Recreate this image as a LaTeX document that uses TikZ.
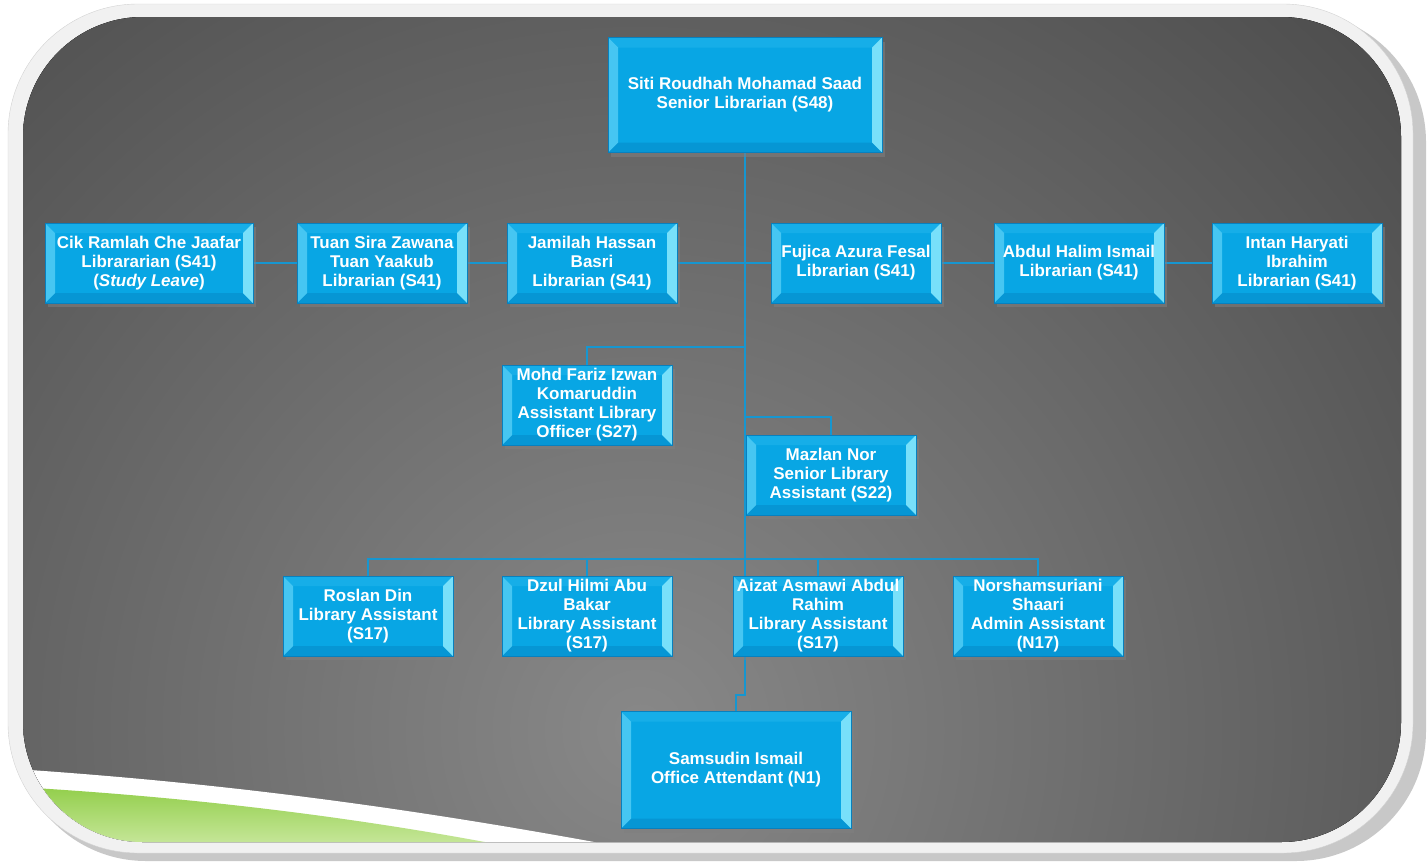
\documentclass[tikz,border=0pt]{standalone}
\usepackage{fontspec}
\setmainfont{Liberation Sans}
\usetikzlibrary{shadows}
\definecolor{boxblue}{RGB}{8,166,228}
\definecolor{bevelright}{RGB}{120,224,250}
\definecolor{bevelleft}{RGB}{70,198,242}
\definecolor{beveltop}{RGB}{22,174,232}
\definecolor{bevelbottom}{RGB}{6,150,212}
\definecolor{boxedge}{RGB}{8,128,190}
\definecolor{linkblue}{RGB}{22,150,208}
\definecolor{paneldark}{RGB}{60,60,60}
\definecolor{panellight}{RGB}{136,136,136}
\definecolor{framegray}{RGB}{241,241,241}
\definecolor{shadowgray}{RGB}{200,200,200}
\definecolor{swooshtop}{RGB}{146,206,74}
\definecolor{swooshbottom}{RGB}{214,238,178}
\pgfdeclarelayer{panel}
\pgfdeclarelayer{wires}
\pgfsetlayers{panel,wires,main}

\begin{document}
\begin{tikzpicture}[x=1pt,y=-1pt,
  staffbox/.style={draw=boxedge, line width=0.6pt, fill=\BOXCOLOR, text=white,
    inner sep=0pt, align=center, minimum width=170pt, minimum height=80pt,
    font=\bfseries\fontsize{17}{19}\selectfont,
    drop shadow={shadow xshift=3pt, shadow yshift=-4pt, opacity=0.55},
    path picture={
      \path (path picture bounding box.south west) coordinate (sw)
            (path picture bounding box.north west) coordinate (nw)
            (path picture bounding box.north east) coordinate (ne)
            (path picture bounding box.south east) coordinate (se);
      \fill[beveltop] (nw) -- (ne) -- ([shift={(-\BEVEL,-\BEVEL)}]ne) -- ([shift={(\BEVEL,-\BEVEL)}]nw) -- cycle;
      \fill[bevelbottom] (sw) -- (se) -- ([shift={(-\BEVEL,\BEVEL)}]se) -- ([shift={(\BEVEL,\BEVEL)}]sw) -- cycle;
      \fill[bevelleft] (sw) -- (nw) -- ([shift={(\BEVEL,-\BEVEL)}]nw) -- ([shift={(\BEVEL,\BEVEL)}]sw) -- cycle;
      \fill[bevelright] (se) -- (ne) -- ([shift={(-\BEVEL,-\BEVEL)}]ne) -- ([shift={(-\BEVEL,\BEVEL)}]se) -- cycle;
    }},
  link/.style={draw=linkblue, line width=2.8pt}]

\def\BOXCOLOR{boxblue}
\def\BEVEL{10pt}
\useasboundingbox (0,0) rectangle (1427,862);

\begin{pgfonlayer}{panel}
  \fill[shadowgray, rounded corners=130pt] (16,12) rectangle (1426,861);
  \filldraw[fill=framegray, draw=gray!35, rounded corners=130pt] (8,4) rectangle (1413,853);
  \begin{scope}
    \clip[rounded corners=120pt] (23,17) rectangle (1401,842);
    \fill[paneldark] (0,0) rectangle (1427,862);
    \fill[inner color=panellight, outer color=paneldark] (640,730) circle (1320pt);
    \fill[white] (0,768) .. controls (250,784) and (460,815) .. (700,862) -- (0,862) -- cycle;
    \shade[top color=swooshtop, bottom color=swooshbottom] (0,786) .. controls (200,797) and (390,820) .. (585,862) -- (0,862) -- cycle;
  \end{scope}
\end{pgfonlayer}

\node[staffbox, minimum width=274pt, minimum height=115pt] (head) at (745,95) {Siti Roudhah Mohamad Saad\\Senior Librarian (S48)};

\node[staffbox, minimum width=208pt] (ramlah) at (149,263) {Cik Ramlah Che Jaafar\\Librararian (S41)\\(\textit{Study Leave})};
\node[staffbox] (sira) at (382,263) {Tuan Sira Zawana\\Tuan Yaakub\\Librarian (S41)};
\node[staffbox] (jamilah) at (592,263) {Jamilah Hassan\\Basri\\Librarian (S41)};
\node[staffbox] (fujica) at (856,263) {Fujica Azura Fesal\\Librarian (S41)};
\node[staffbox] (halim) at (1079,263) {Abdul Halim Ismail\\Librarian (S41)};
\node[staffbox] (intan) at (1297,263) {Intan Haryati\\Ibrahim\\Librarian (S41)};

\node[staffbox] (fariz) at (587,405) {Mohd Fariz Izwan\\Komaruddin\\Assistant Library\\Officer (S27)};
\node[staffbox] (mazlan) at (831,475) {Mazlan Nor\\Senior Library\\Assistant (S22)};

\node[staffbox] (roslan) at (368,616) {Roslan Din\\Library Assistant\\(S17)};
\node[staffbox] (dzul) at (587,616) {Dzul Hilmi Abu\\Bakar\\Library Assistant\\(S17)};
\node[staffbox] (aizat) at (818,616) {Aizat Asmawi Abdul\\Rahim\\Library Assistant\\(S17)};
\node[staffbox] (norsham) at (1038,616) {Norshamsuriani\\Shaari\\Admin Assistant\\(N17)};

\node[staffbox, minimum width=230pt, minimum height=117pt] (samsudin) at (736,770) {Samsudin Ismail\\Office Attendant (N1)};

\coordinate (tfariz) at (745,347);
\coordinate (tmazlan) at (745,417);
\coordinate (bus) at (745,559);
\coordinate (jog) at (745,695);

\begin{pgfonlayer}{wires}
  \draw[link] (head.south) -- (jog) -| (samsudin.north);
  \draw[link] (ramlah.east) -- (intan.west);
  \draw[link] (tfariz) -| (fariz.north);
  \draw[link] (tmazlan) -| (mazlan.north);
  \draw[link] (roslan.north) |- (bus) -| (norsham.north);
  \draw[link] (dzul.north) -- (dzul.north |- bus);
  \draw[link] (aizat.north) -- (aizat.north |- bus);
\end{pgfonlayer}

\end{tikzpicture}
\end{document}
